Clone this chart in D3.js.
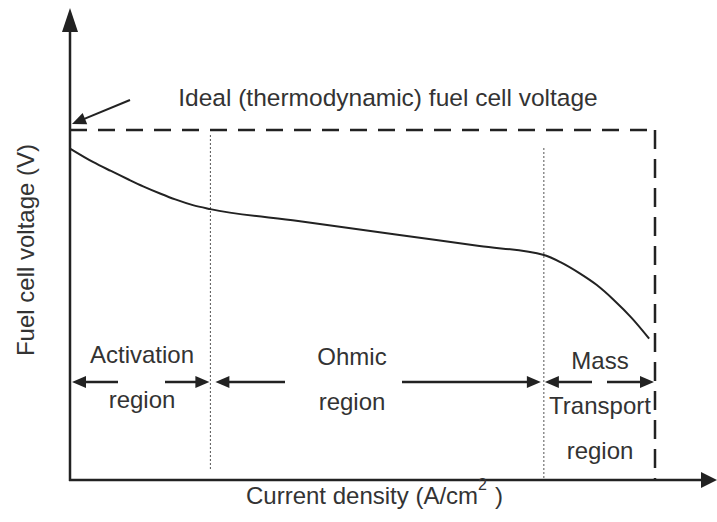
<!DOCTYPE html>
<html>
<head>
<meta charset="utf-8">
<script src="https://cdn.jsdelivr.net/npm/d3@7"></script>
<style>
  html, body { margin: 0; padding: 0; background: #fff; }
  svg text { font-family: "Liberation Sans", Arial, sans-serif; fill: #333; }
</style>
</head>
<body>
<div id="chart"></div>
<script>
// polarisation curve (A/cm^2, V)
const currentDensity = [0, 0.04, 0.07, 0.10, 0.125, 0.155, 0.18, 0.21, 0.24, 0.39, 0.56, 0.70, 0.81, 0.84, 0.87, 0.90, 0.93, 0.96, 0.99];
const cellVoltage = [1.165, 1.117, 1.086, 1.056, 1.032, 1.006, 0.986, 0.966, 0.952, 0.910, 0.862, 0.822, 0.791, 0.764, 0.728, 0.686, 0.632, 0.570, 0.497];

const idealVoltage = 1.23;
const regionBounds = [0.24, 0.81]; // activation | ohmic | mass transport
const maxCurrent = 1.0;
const regionNames = [['Activation', 'region'], ['Ohmic', 'region'], ['Mass', 'Transport', 'region']];

const W = 717, H = 522;
const x0 = 70, y0 = 480;
const ink = '#222';

const x = d3.scaleLinear().domain([0, maxCurrent]).range([x0, 655]);
const y = d3.scaleLinear().domain([0, idealVoltage]).range([y0, 130]);

const svg = d3.select('#chart').append('svg')
  .attr('width', W)
  .attr('height', H);

// filled triangle head, tip at (tx,ty), pointing along angle a
const head = (tx, ty, a, len, half) => {
  const bx = tx - len * Math.cos(a), by = ty - len * Math.sin(a);
  const px = -Math.sin(a) * half, py = Math.cos(a) * half;
  return `M${tx},${ty}L${bx + px},${by + py}L${bx - px},${by - py}Z`;
};

const arrow = (x1, y1, x2, y2, w, len, half) => {
  const a = Math.atan2(y2 - y1, x2 - x1);
  svg.append('line')
    .attr('x1', x1).attr('y1', y1)
    .attr('x2', x2 - (len - 2) * Math.cos(a)).attr('y2', y2 - (len - 2) * Math.sin(a))
    .attr('stroke', ink).attr('stroke-width', w);
  svg.append('path').attr('d', head(x2, y2, a, len, half)).attr('fill', ink);
};

// dotted region dividers
svg.append('line')
  .attr('x1', x(regionBounds[0])).attr('x2', x(regionBounds[0]))
  .attr('y1', 135).attr('y2', 470)
  .attr('stroke', '#555').attr('stroke-width', 1).attr('stroke-dasharray', '2,2');
svg.append('line')
  .attr('x1', x(regionBounds[1])).attr('x2', x(regionBounds[1]))
  .attr('y1', 148).attr('y2', y0)
  .attr('stroke', '#555').attr('stroke-width', 1).attr('stroke-dasharray', '2,2');

// ideal voltage box (dashed)
svg.append('line')
  .attr('x1', x0).attr('x2', x(maxCurrent))
  .attr('y1', y(idealVoltage)).attr('y2', y(idealVoltage))
  .attr('stroke', ink).attr('stroke-width', 2.5).attr('stroke-dasharray', '17,11');
svg.append('line')
  .attr('x1', x(maxCurrent)).attr('x2', x(maxCurrent))
  .attr('y1', y(idealVoltage)).attr('y2', y(0))
  .attr('stroke', ink).attr('stroke-width', 2.5).attr('stroke-dasharray', '19,10');

// polarisation curve
const pts = currentDensity.map((c, i) => [c, cellVoltage[i]]);
svg.append('path')
  .datum(pts)
  .attr('fill', 'none')
  .attr('stroke', ink)
  .attr('stroke-width', 2)
  .attr('d', d3.line().x(d => x(d[0])).y(d => y(d[1])).curve(d3.curveMonotoneX));

// axes with arrow heads
svg.append('line').attr('x1', x0).attr('y1', y0 + 1).attr('x2', x0).attr('y2', 20)
  .attr('stroke', ink).attr('stroke-width', 2.5);
svg.append('path').attr('d', head(x0, 8, -Math.PI / 2, 24, 8)).attr('fill', ink);
svg.append('line').attr('x1', x0 - 1).attr('y1', y0).attr('x2', 705).attr('y2', y0)
  .attr('stroke', ink).attr('stroke-width', 2.5);
svg.append('path').attr('d', head(717, y0, 0, 16, 8)).attr('fill', ink);

// pointer to the ideal voltage
arrow(130, 100, 72, 124, 2, 14, 6);

// region arrows
const ay = 382;
arrow(118, ay, x0 + 2, ay, 2.5, 14, 6);
arrow(165, ay, x(regionBounds[0]) - 1, ay, 2.5, 14, 6);
arrow(285, ay, x(regionBounds[0]) + 5, ay, 2.5, 14, 6);
arrow(402, ay, x(regionBounds[1]) - 3, ay, 2.5, 14, 6);
arrow(592, ay, x(regionBounds[1]) + 1, ay, 2.5, 14, 6);
arrow(607, ay, x(maxCurrent) - 1, ay, 2.5, 14, 6);

// region labels
const labelX = [142, 352, 600];
const labelY = [[363, 408], [365, 410], [369, 414, 459]];
regionNames.forEach((lines, i) => {
  lines.forEach((t, j) => {
    svg.append('text')
      .attr('x', labelX[i]).attr('y', labelY[i][j])
      .attr('text-anchor', 'middle')
      .attr('font-size', 24)
      .text(t);
  });
});

// title of the dashed line
svg.append('text')
  .attr('x', 388).attr('y', 106)
  .attr('text-anchor', 'middle')
  .attr('font-size', 24.5)
  .text('Ideal (thermodynamic) fuel cell voltage');

// axis titles
svg.append('text')
  .attr('transform', 'translate(34,250) rotate(-90)')
  .attr('text-anchor', 'middle')
  .attr('font-size', 24)
  .text('Fuel cell voltage (V)');

const xt = svg.append('text')
  .attr('x', 246).attr('y', 504)
  .attr('font-size', 24);
xt.append('tspan').text('Current density (A/cm');
xt.append('tspan').attr('font-size', 16).attr('dy', -14).text('2');
xt.append('tspan').attr('dy', 14).attr('dx', 8).text(')');
</script>
</body>
</html>
